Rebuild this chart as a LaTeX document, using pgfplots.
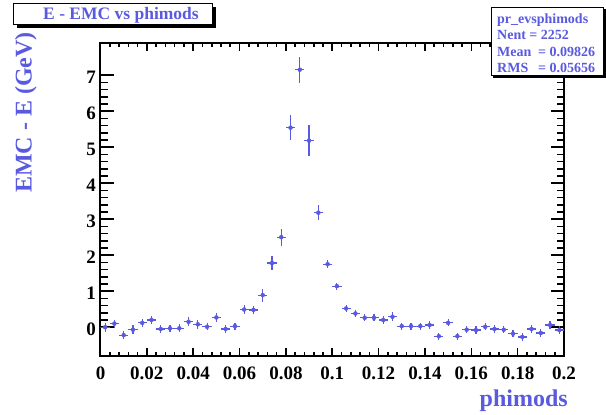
\documentclass[border=0pt]{standalone}
\usepackage{fontspec}
\setmainfont{Liberation Serif}
\usepackage{pgfplots}
\usepackage{pgfplotstable}
\pgfplotsset{compat=1.18}
\definecolor{rootblue}{RGB}{90,90,225}

\pgfplotstableread{
x y ex ey
0.002 0.00 0.002 0.12
0.006 0.10 0.002 0.11
0.010 -0.22 0.002 0.12
0.014 -0.07 0.002 0.12
0.018 0.12 0.002 0.12
0.022 0.20 0.002 0.12
0.026 -0.05 0.002 0.10
0.030 -0.03 0.002 0.10
0.034 -0.03 0.002 0.11
0.038 0.15 0.002 0.12
0.042 0.08 0.002 0.12
0.046 0.01 0.002 0.10
0.050 0.27 0.002 0.12
0.054 -0.05 0.002 0.12
0.058 0.03 0.002 0.10
0.062 0.49 0.002 0.13
0.066 0.48 0.002 0.12
0.070 0.89 0.002 0.18
0.074 1.78 0.002 0.20
0.078 2.50 0.002 0.24
0.082 5.54 0.002 0.34
0.086 7.15 0.002 0.36
0.090 5.18 0.002 0.44
0.094 3.18 0.002 0.20
0.098 1.75 0.002 0.12
0.102 1.14 0.002 0.10
0.106 0.52 0.002 0.11
0.110 0.38 0.002 0.10
0.114 0.26 0.002 0.10
0.118 0.26 0.002 0.10
0.122 0.20 0.002 0.10
0.126 0.29 0.002 0.12
0.130 0.03 0.002 0.10
0.134 0.03 0.002 0.10
0.138 0.03 0.002 0.10
0.142 0.06 0.002 0.10
0.146 -0.25 0.002 0.10
0.150 0.12 0.002 0.10
0.154 -0.25 0.002 0.10
0.158 -0.07 0.002 0.10
0.162 -0.08 0.002 0.10
0.166 0.01 0.002 0.10
0.170 -0.05 0.002 0.10
0.174 -0.07 0.002 0.10
0.178 -0.18 0.002 0.10
0.182 -0.27 0.002 0.10
0.186 -0.05 0.002 0.10
0.190 -0.16 0.002 0.10
0.194 0.06 0.002 0.10
0.198 -0.08 0.002 0.10
}\datatable

\begin{document}
\begin{tikzpicture}[x=1pt,y=1pt]
\useasboundingbox (0,0) rectangle (606,415);
\begin{axis}[
  at={(100.5pt,59pt)}, anchor=south west, scale only axis,
  width=463.5pt, height=313.3pt,
  xmin=0, xmax=0.2, ymin=-0.8, ymax=7.9,
  axis line style={line width=2pt, black},
  tick align=inside,
  xtick={0,0.02,0.04,0.06,0.08,0.1,0.12,0.14,0.16,0.18,0.2},
  xticklabels={0,0.02,0.04,0.06,0.08,0.1,0.12,0.14,0.16,0.18,0.2},
  ytick={0,1,2,3,4,5,6,7},
  yticklabels={0,1,2,3,4,5,6,7},
  minor x tick num=4, minor y tick num=4,
  every tick/.style={black, line width=1.6pt},
  x tick style={/pgfplots/major tick length=8pt,/pgfplots/minor tick length=4pt},
  y tick style={/pgfplots/major tick length=13pt,/pgfplots/minor tick length=7pt},
  /pgf/number format/assume math mode=true,
  tick label style={font=\bfseries\fontsize{19}{19}\selectfont, black},
  xticklabel style={yshift=-7pt},
  yticklabel style={xshift=-1pt, yshift=-2.5pt},
  xlabel={phimods},
  ylabel={EMC - E (GeV)},
  xlabel style={at={(axis description cs:1.0086,-0.107)}, anchor=north east, inner sep=0pt,
    font=\bfseries\fontsize{24}{24}\selectfont, text=rootblue},
  ylabel style={at={(axis description cs:-0.137,1.034)}, anchor=south east, inner sep=0pt,
    font=\bfseries\fontsize{24}{24}\selectfont, text=rootblue},
]
\addplot[rootblue, only marks, mark=none,
  error bars/.cd, x dir=both, x explicit, y dir=both, y explicit, error mark=none,
  error bar style={line width=1.2pt, rootblue}]
  table[x=x, y=y, x error=ex, y error=ey] {\datatable};
\end{axis}
% title box
\fill[black] (16.5,387) rectangle (215.5,408);
\draw[fill=white, line width=1pt] (13.5,390) rectangle (212.5,411);
\node[font=\bfseries\fontsize{17.5}{17.5}\selectfont, text=rootblue, inner sep=0pt] at (121,400) {E - EMC vs phimods};
% stats box
\fill[black] (493,337) rectangle (606,406);
\draw[fill=white, line width=1pt] (491,339) rectangle (603.5,407.7);
\begin{scope}[every node/.style={font=\bfseries\fontsize{14}{14}\selectfont, text=rootblue, inner sep=0pt, anchor=base west}]
\node at (497,391.7) {pr\_evsphimods};
\node at (497,375) {Nent = 2252};
\node at (497,358) {\makebox[41pt][l]{Mean}= 0.09826};
\node at (497,342.3) {\makebox[41pt][l]{RMS}= 0.05656};
\end{scope}
\end{tikzpicture}
\end{document}
